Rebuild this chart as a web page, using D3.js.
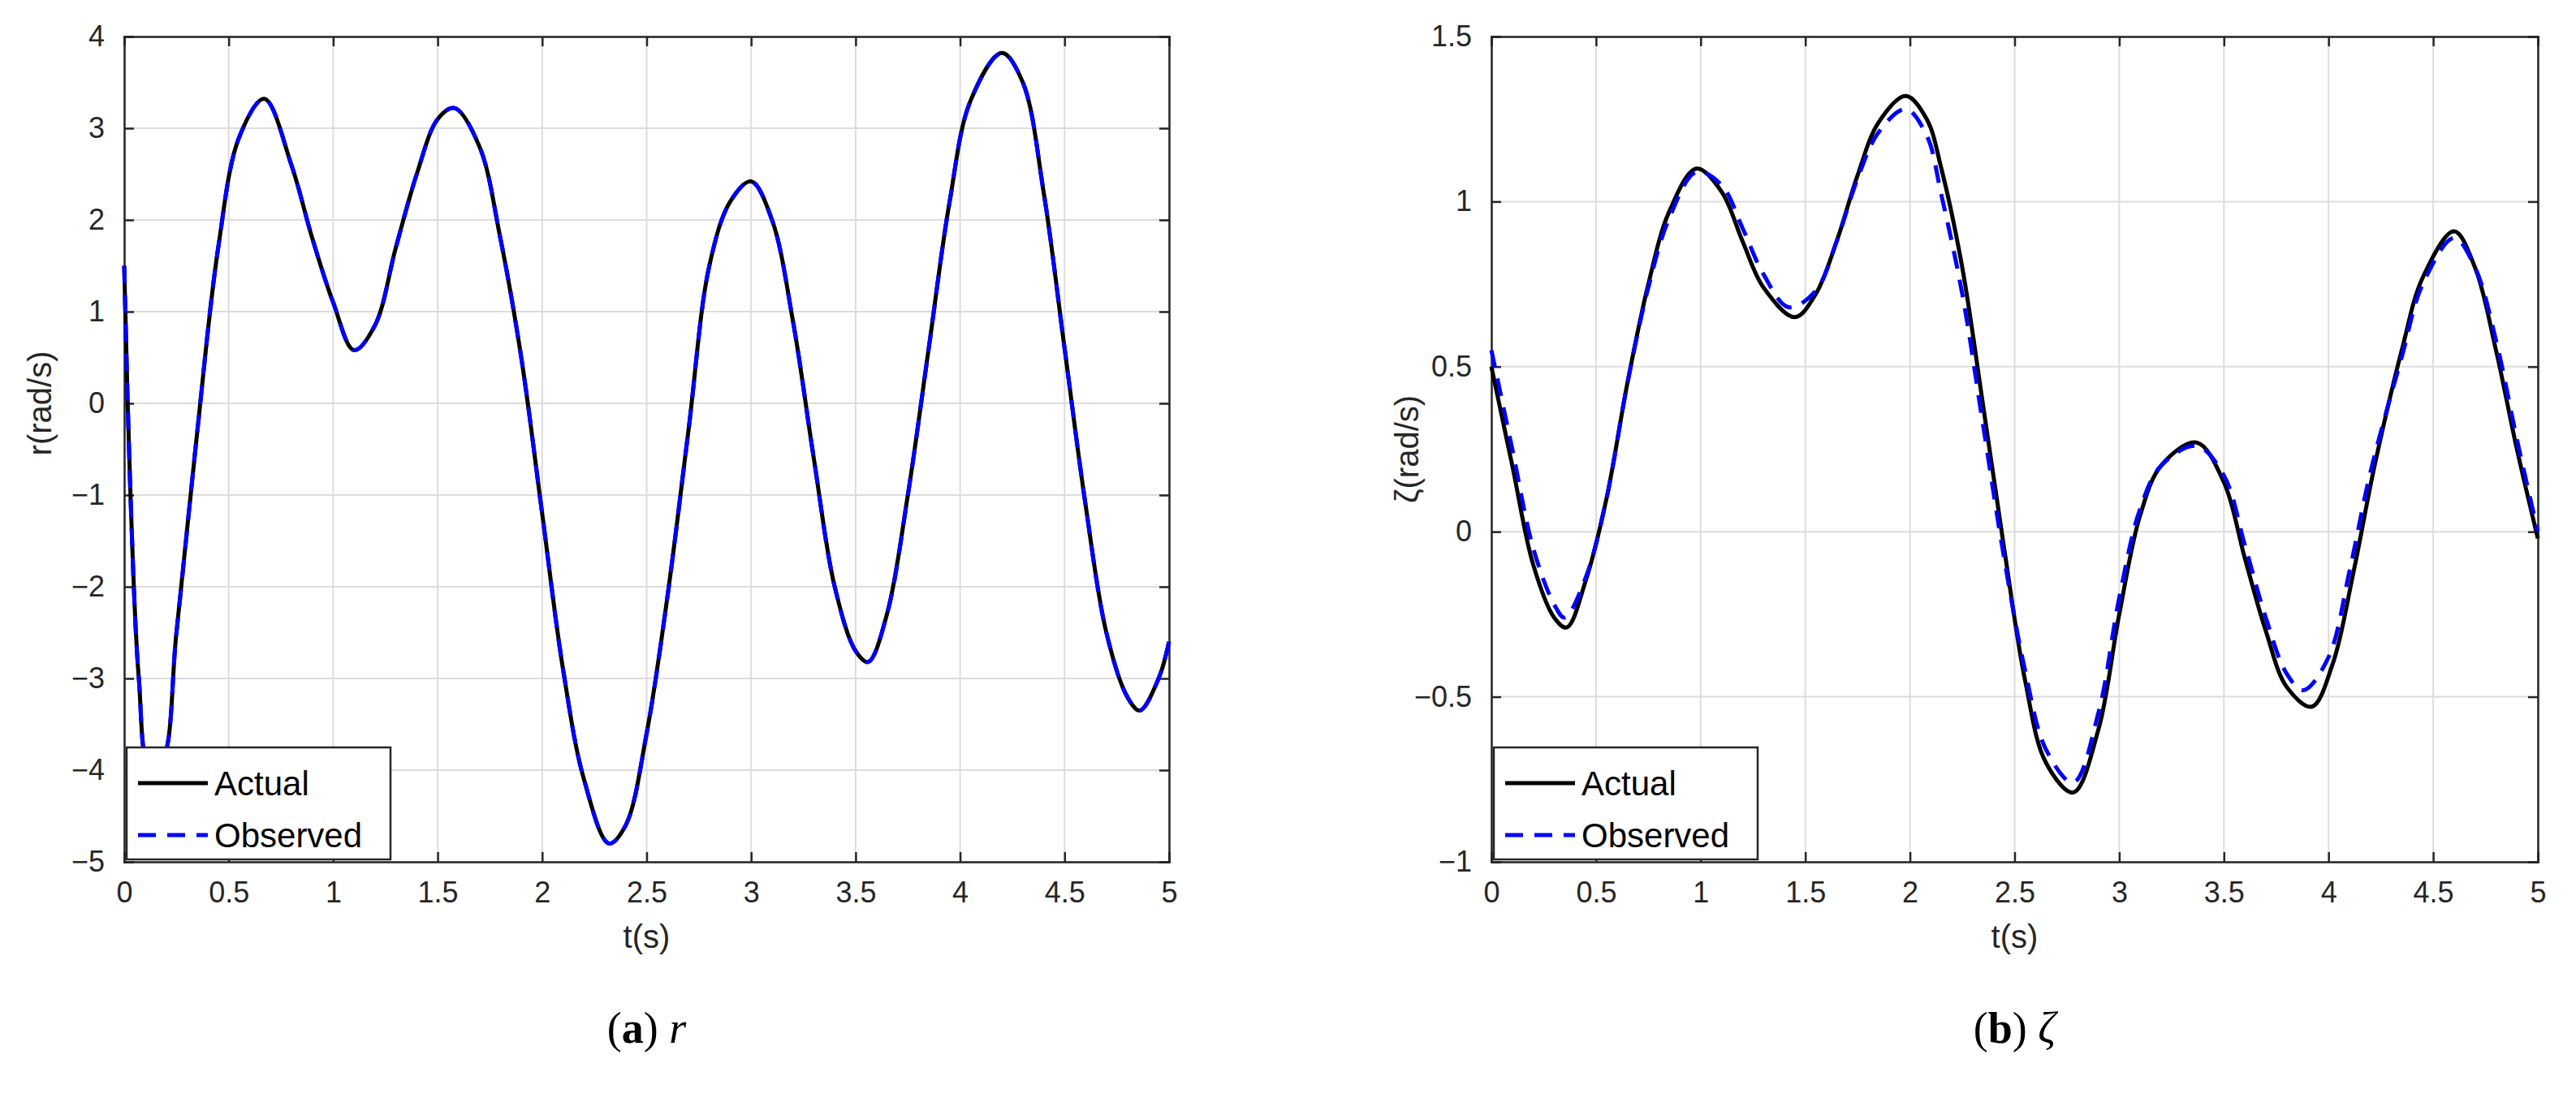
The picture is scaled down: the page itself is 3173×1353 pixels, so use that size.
<!DOCTYPE html>
<html><head><meta charset="utf-8">
<script src="https://cdn.jsdelivr.net/npm/d3@7"></script>
<style>body{margin:0;background:#fff}text{font-family:"Liberation Sans",Arial,sans-serif}</style>
</head><body><svg id="c" width="3173" height="1353"></svg>
<script>
// r panel
const rT = [0,0.03,0.07,0.12,0.18,0.25,0.35,0.45,0.55,0.67,0.8,0.9,1.0,1.1,1.2,1.3,1.4,1.5,1.58,1.7,1.8,1.9,2.0,2.1,2.2,2.32,2.4,2.5,2.6,2.7,2.8,2.9,3.0,3.1,3.2,3.3,3.4,3.5,3.56,3.65,3.75,3.85,3.95,4.05,4.2,4.3,4.4,4.5,4.6,4.7,4.8,4.86,4.95,5.0];
const rActual = [1.5,-1,-3,-3.95,-3.9,-2.5,-0.3,1.7,2.9,3.32,2.6,1.8,1.1,0.58,0.85,1.7,2.5,3.1,3.22,2.8,1.8,0.5,-1.2,-2.9,-4.1,-4.8,-4.6,-3.6,-2.1,-0.3,1.5,2.2,2.42,2.0,0.9,-0.6,-2.0,-2.7,-2.82,-2.3,-1.0,0.6,2.2,3.3,3.82,3.5,2.3,0.6,-1.1,-2.5,-3.2,-3.35,-3.0,-2.6];
const rObserved = rActual.slice();

// zeta panel
const zT = [0,0.1,0.2,0.3,0.36,0.45,0.55,0.65,0.75,0.85,0.98,1.1,1.2,1.3,1.45,1.55,1.65,1.75,1.85,1.98,2.08,2.15,2.25,2.35,2.45,2.55,2.65,2.78,2.9,3.0,3.1,3.2,3.37,3.5,3.6,3.7,3.8,3.92,4.02,4.12,4.22,4.35,4.45,4.6,4.7,4.8,4.9,5.0];
const zActual = [0.5,0.2,-0.1,-0.26,-0.29,-0.15,0.1,0.45,0.75,0.97,1.1,1.03,0.88,0.74,0.65,0.72,0.88,1.08,1.24,1.32,1.25,1.1,0.8,0.38,-0.05,-0.45,-0.7,-0.79,-0.6,-0.25,0.05,0.2,0.27,0.15,-0.08,-0.3,-0.47,-0.53,-0.4,-0.12,0.2,0.55,0.77,0.91,0.8,0.55,0.25,-0.02];
const zObsT = [0,0.1,0.2,0.3,0.35,0.45,0.55,0.65,0.75,0.85,0.98,1.1,1.2,1.3,1.42,1.55,1.65,1.75,1.85,1.98,2.08,2.15,2.25,2.35,2.45,2.55,2.65,2.78,2.9,3.0,3.1,3.2,3.37,3.5,3.6,3.7,3.8,3.88,4.0,4.1,4.2,4.35,4.45,4.6,4.7,4.8,4.9,5.0];
const zObserved = [0.55,0.25,-0.05,-0.22,-0.26,-0.14,0.1,0.45,0.74,0.95,1.09,1.05,0.92,0.78,0.68,0.73,0.88,1.07,1.21,1.28,1.2,1.02,0.72,0.32,-0.08,-0.42,-0.66,-0.76,-0.55,-0.2,0.07,0.2,0.26,0.17,-0.04,-0.26,-0.43,-0.48,-0.38,-0.12,0.18,0.53,0.75,0.89,0.8,0.58,0.28,0.0];

const xTicks = [0,0.5,1,1.5,2,2.5,3,3.5,4,4.5,5];
const rTicks = [-5,-4,-3,-2,-1,0,1,2,3,4];
const zTicks = [-1,-0.5,0,0.5,1,1.5];

const svg = d3.select('#c');

function panel(cfg) {
  const g = svg.append('g');
  const x = d3.scaleLinear().domain([0,5]).range([cfg.left, cfg.right]);
  const y = d3.scaleLinear().domain(cfg.yDomain).range([1062, 45]);

  // grid
  g.selectAll('.gx').data(xTicks).join('line')
    .attr('x1', d => x(d)).attr('x2', d => x(d)).attr('y1', 45).attr('y2', 1062)
    .attr('stroke', '#dcdcdc').attr('stroke-width', 2);
  g.selectAll('.gy').data(cfg.yTicks).join('line')
    .attr('x1', cfg.left).attr('x2', cfg.right).attr('y1', d => y(d)).attr('y2', d => y(d))
    .attr('stroke', '#dcdcdc').attr('stroke-width', 2);

  // axes (MATLAB box with inner ticks)
  const axB = g.append('g').attr('transform', 'translate(0,1062)')
    .call(d3.axisBottom(x).tickValues(xTicks).tickSize(-12).tickPadding(24).tickFormat(d3.format('')));
  const axT = g.append('g').attr('transform', 'translate(0,45)')
    .call(d3.axisTop(x).tickValues(xTicks).tickSize(-12).tickFormat(''));
  const axL = g.append('g').attr('transform', `translate(${cfg.left},0)`)
    .call(d3.axisLeft(y).tickValues(cfg.yTicks).tickSize(-12).tickPadding(24).tickFormat(d3.format('')));
  const axR = g.append('g').attr('transform', `translate(${cfg.right},0)`)
    .call(d3.axisRight(y).tickValues(cfg.yTicks).tickSize(-12).tickFormat(''));
  [axB, axT, axL, axR].forEach(a => {
    a.selectAll('path,line').attr('stroke', '#262626').attr('stroke-width', 2.5);
    a.selectAll('text').attr('fill', '#262626').style('font-size', '36px')
      .style('font-family', '"Liberation Sans",Arial,sans-serif');
  });

  const line = d3.line().x(d => x(d[0])).y(d => y(d[1])).curve(d3.curveCatmullRom);
  g.append('path').attr('d', line(cfg.tA.map((t, i) => [t, cfg.actual[i]])))
    .attr('fill', 'none').attr('stroke', '#000').attr('stroke-width', 5);
  g.append('path').attr('d', line(cfg.tO.map((t, i) => [t, cfg.observed[i]])))
    .attr('fill', 'none').attr('stroke', '#0000ff').attr('stroke-width', 5).attr('stroke-dasharray', '22,14');

  // legend
  const lg = g.append('g').attr('transform', `translate(${cfg.left + 3},921)`);
  lg.append('rect').attr('width', cfg.legW).attr('height', 138).attr('fill', '#fff').attr('stroke', '#262626').attr('stroke-width', 2.5);
  lg.append('line').attr('x1', 14).attr('x2', 100).attr('y1', 44).attr('y2', 44).attr('stroke', '#000').attr('stroke-width', 5);
  lg.append('line').attr('x1', 14).attr('x2', 100).attr('y1', 108).attr('y2', 108).attr('stroke', '#0000ff').attr('stroke-width', 5).attr('stroke-dasharray', '22,14');
  lg.append('text').attr('x', 108).attr('y', 59).text('Actual').style('font-size', '42px').attr('fill', '#000');
  lg.append('text').attr('x', 108).attr('y', 123).text('Observed').style('font-size', '42px').attr('fill', '#000');

  // axis titles
  g.append('text').attr('x', (cfg.left + cfg.right) / 2).attr('y', 1168).attr('text-anchor', 'middle')
    .style('font-size', '40px').attr('fill', '#262626').text('t(s)');
  g.append('text').attr('transform', `translate(${cfg.left - 90},${y(cfg.yMid)}) rotate(-90)`).attr('text-anchor', 'middle')
    .style('font-size', '40px').attr('fill', '#262626').text(cfg.yLabel);

  // caption
  const cap = g.append('text').attr('x', (cfg.left + cfg.right) / 2).attr('y', 1285).attr('text-anchor', 'middle')
    .style('font-family', '"Liberation Serif","Times New Roman",serif').style('font-size', '54px').attr('fill', '#000');
  cap.append('tspan').text('(');
  cap.append('tspan').attr('font-weight', 'bold').text(cfg.tag);
  cap.append('tspan').text(') ');
  cap.append('tspan').attr('font-style', 'italic').text(cfg.sym);
}

panel({left: 153, right: 1440, yDomain: [-5, 4], yTicks: rTicks, yMid: 0, yLabel: 'r(rad/s)',
  tA: rT, actual: rActual, tO: rT, observed: rObserved, legW: 325, tag: 'a', sym: 'r'});
panel({left: 1837, right: 3126, yDomain: [-1, 1.5], yTicks: zTicks, yMid: 0.25, yLabel: 'ζ(rad/s)',
  tA: zT, actual: zActual, tO: zObsT, observed: zObserved, legW: 325, tag: 'b', sym: 'ζ'});
</script></body></html>
